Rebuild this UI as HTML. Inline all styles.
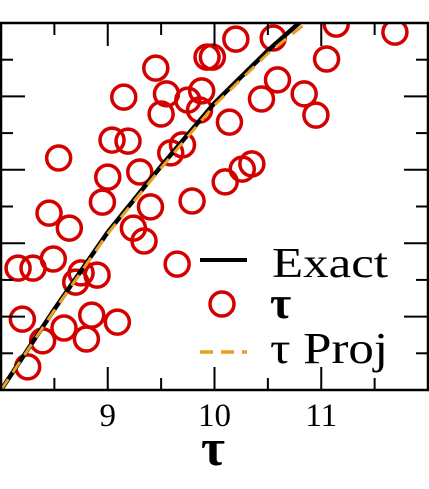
<!DOCTYPE html>
<html><head><meta charset="utf-8"><style>
html,body{margin:0;padding:0;background:#fff;}
svg{display:block;}
text{font-family:"Liberation Serif",serif;fill:#000;}
</style></head><body>
<svg id="chart" width="429" height="489" viewBox="0 0 429 489" xmlns="http://www.w3.org/2000/svg">
<defs><clipPath id="clip"><rect x="1" y="23" width="426" height="367"/></clipPath></defs>
<g id="plot" clip-path="url(#clip)"></g>
<g id="axes"></g>
<g id="legend">
  <line x1="200" y1="260" x2="247" y2="260" stroke="#000" stroke-width="4"/>
  <text x="272" y="277" font-size="42" textLength="116" lengthAdjust="spacingAndGlyphs">Exact</text>
  <circle cx="222" cy="304" r="12" fill="none" stroke="#d40000" stroke-width="3.5"/>
  <text x="270" y="318" font-size="46" font-weight="bold">τ</text>
  <line x1="200" y1="352" x2="247" y2="352" stroke="#e8a020" stroke-width="3.5" stroke-dasharray="13,8"/>
  <text x="270" y="363" font-size="44" textLength="118" lengthAdjust="spacingAndGlyphs">τ Proj</text>
</g>
<text x="213" y="465" font-size="52" font-weight="bold" text-anchor="middle">τ</text>
</svg>
<script>
const scatterX = [9.93,9.98,9.45,9.15,9.55,9.75,9.88,9.86,9.50,9.04,9.19,9.70,9.59,8.54,9.00,9.30,10.10,8.95,9.40,9.79,8.45,8.64,9.24,9.34,10.20,10.55,11.14,11.69,11.05,10.59,10.84,10.44,10.95,10.14,10.35,10.26,9.65,8.16,8.30,8.49,8.75,8.90,8.70,8.20,8.85,9.09,8.59,8.39,8.80,8.25];
const scatterY = [9.07,9.07,8.77,7.98,8.07,7.90,8.15,7.63,7.52,6.81,6.78,6.68,6.46,6.32,5.80,5.94,5.67,5.12,4.99,5.15,4.82,4.41,4.41,4.06,9.56,9.59,9.97,9.75,9.02,8.45,8.07,7.93,7.49,7.30,6.16,6.02,3.43,3.32,3.32,3.57,3.19,3.13,2.94,1.93,2.04,1.85,1.69,1.34,1.39,0.63];
const exactX = [8.0,8.5,9.0,9.5,10.0,10.5,10.85];
const exactY = [0.0,2.2,4.3,6.1,7.82,9.25,10.15];
const projX = [8.0,8.5,9.0,9.5,10.0,10.5,10.9];
const projY = [0.0,2.17,4.26,6.05,7.76,9.17,10.1];
const xTickLabels = ["9","10","11"];
const xTickValues = [9,10,11];

const X0=8,X1=12,Y0=0,Y1=10,PL=1,PR=428,PT=23,PB=390;
const sx=v=>PL+(v-X0)/(X1-X0)*(PR-PL);
const sy=v=>PB-(v-Y0)/(Y1-Y0)*(PB-PT);
const NS="http://www.w3.org/2000/svg";
const plot=document.getElementById('plot'), axes=document.getElementById('axes');
function mk(tag,attrs,parent){const e=document.createElementNS(NS,tag);for(const k in attrs)e.setAttribute(k,attrs[k]);parent.appendChild(e);return e;}

for(let i=0;i<scatterX.length;i++){
  const c=mk('circle',{cx:sx(scatterX[i]),cy:sy(scatterY[i]),r:12,fill:'none',stroke:'#d40000','stroke-width':3.5},plot);
  
  
}
const pe=mk('polyline',{points:exactX.map((x,i)=>sx(x)+','+sy(exactY[i])).join(' '),fill:'none',stroke:'#000','stroke-width':4.5},plot);


const pp=mk('polyline',{points:projX.map((x,i)=>sx(x)+','+sy(projY[i])).join(' '),fill:'none',stroke:'#e8a020','stroke-width':3,'stroke-dasharray':'13,8'},plot);



const fr=mk('rect',{x:PL,y:PT,width:PR-PL,height:PB-PT,fill:'none',stroke:'#000','stroke-width':2.5},axes);


for(let k=0;k<=8;k++){
  const v=X0+k*0.5, x=sx(v), L=(k%2===0)?23:12;
  const t1=mk('line',{x1:x,y1:PB,x2:x,y2:PB-L,stroke:'#000','stroke-width':2},axes);
  
  
  const t2=mk('line',{x1:x,y1:PT,x2:x,y2:PT+L,stroke:'#000','stroke-width':2},axes);
  
  
}
for(let k=0;k<=10;k++){
  const y=sy(k), L=(k%2===0)?24:12;
  const t1=mk('line',{x1:PL,y1:y,x2:PL+L,y2:y,stroke:'#000','stroke-width':2},axes);
  
  
  const t2=mk('line',{x1:PR,y1:y,x2:PR-L,y2:y,stroke:'#000','stroke-width':2},axes);
  
  
}
xTickLabels.forEach((lab,i)=>{
  const t=mk('text',{x:sx(xTickValues[i]),y:426,'font-size':33,'text-anchor':'middle'},axes);
  t.textContent=lab;
  
  
});
</script>
</body></html>
